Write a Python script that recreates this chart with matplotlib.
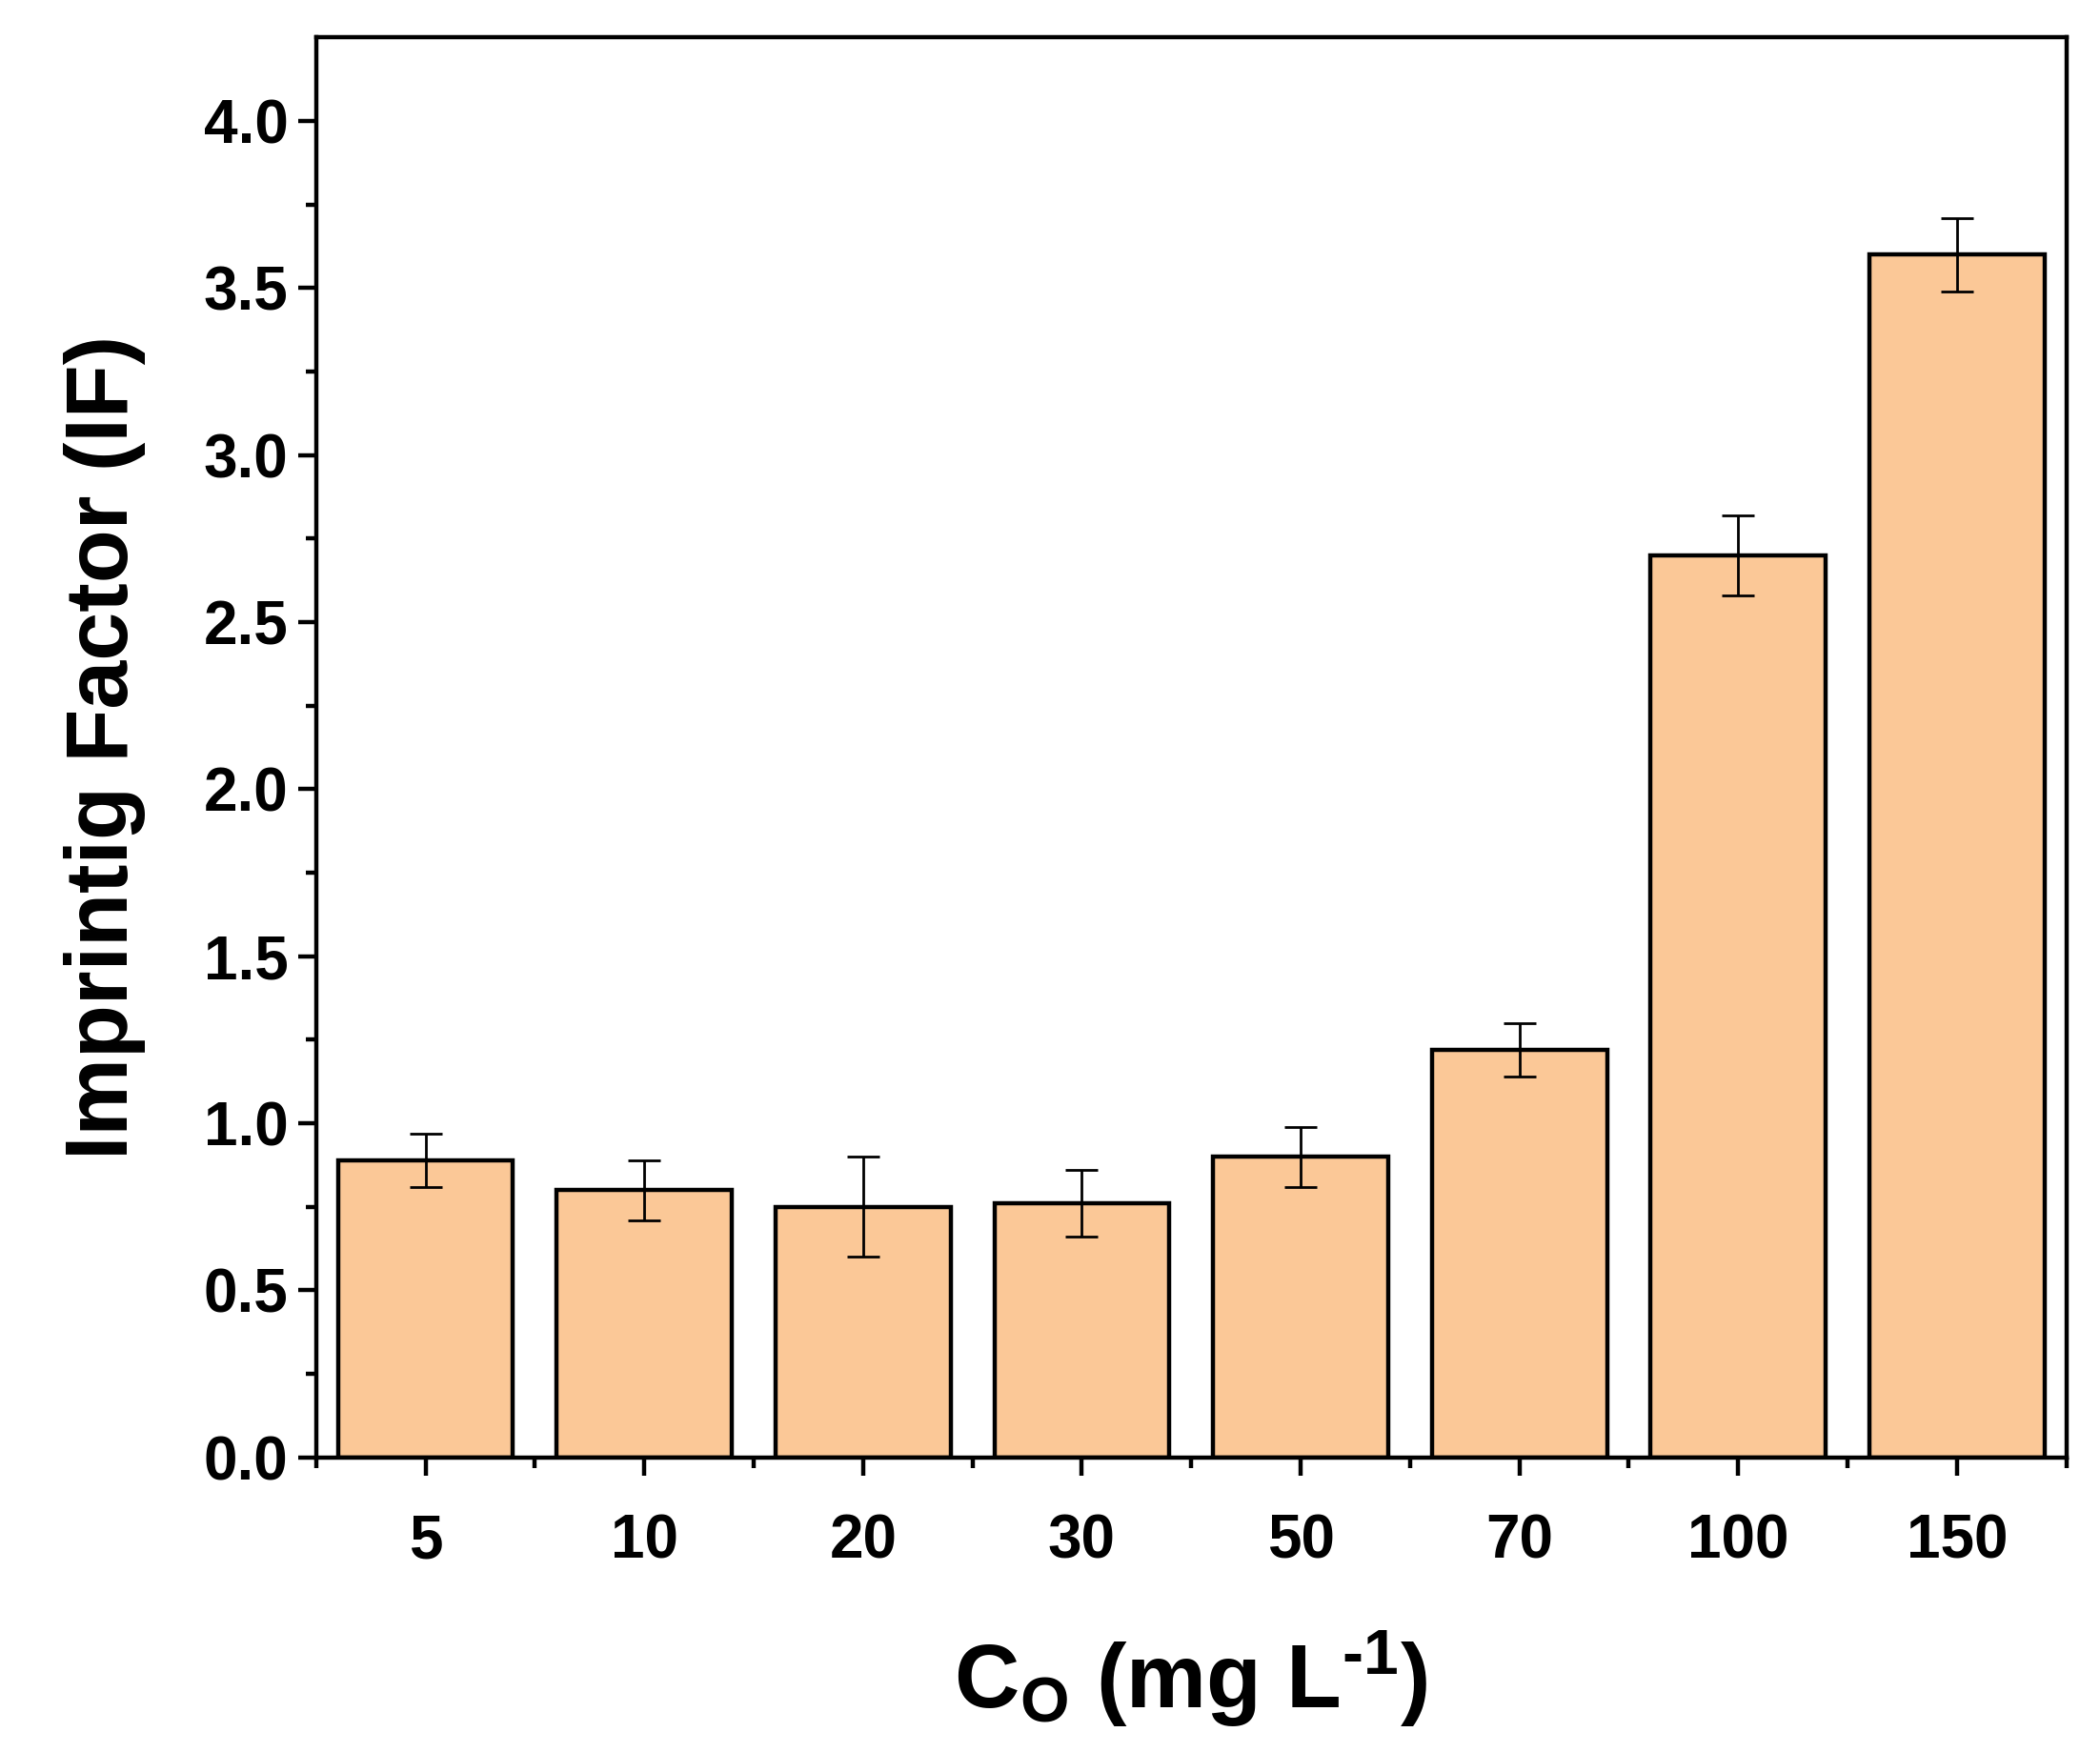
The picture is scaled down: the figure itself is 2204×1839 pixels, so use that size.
import matplotlib
matplotlib.use("Agg")
import matplotlib.pyplot as plt
import numpy as np

plt.rcParams['font.family'] = ['Liberation Sans', 'DejaVu Sans']
plt.rcParams['font.weight'] = 'bold'
plt.rcParams['mathtext.fontset'] = 'custom'
plt.rcParams['mathtext.rm'] = 'Liberation Sans:bold'
plt.rcParams['mathtext.bf'] = 'Liberation Sans:bold'
plt.rcParams['mathtext.default'] = 'bf'

# data
categories = ["5", "10", "20", "30", "50", "70", "100", "150"]
imprint_factor = [0.89, 0.80, 0.75, 0.76, 0.90, 1.22, 2.70, 3.60]
errors = [0.08, 0.09, 0.15, 0.10, 0.09, 0.08, 0.12, 0.11]

fig = plt.figure(figsize=(11.02, 9.195), dpi=200)
ax = fig.add_axes([0.1505, 0.1682, 0.8335, 0.8104])

x = np.arange(len(categories))
ax.bar(x, imprint_factor, width=0.8, color="#FBC897", edgecolor="black", linewidth=1.6,
       yerr=errors, error_kw=dict(ecolor="black", elinewidth=1.0, capsize=6, capthick=1.0))

ax.set_xlim(-0.5, len(categories) - 0.5)
ax.set_ylim(0, 4.25)
ax.set_xticks(x)
ax.set_xticklabels(categories)
ax.set_xticks(np.arange(-0.5, len(categories)), minor=True)
ax.set_yticks(np.arange(0, 4.01, 0.5))
ax.set_yticks(np.arange(0.25, 4.25, 0.5), minor=True)
ax.yaxis.set_major_formatter(matplotlib.ticker.FormatStrFormatter('%.1f'))

ax.tick_params(axis='both', which='major', direction='out', length=7, width=1.6, labelsize=23)
ax.tick_params(axis='both', which='minor', direction='out', length=4, width=1.6)
ax.tick_params(axis='x', which='major', pad=14)
for s in ax.spines.values():
    s.set_linewidth(1.6)

ax.set_ylabel("Imprintig Factor (IF)", fontsize=33, fontweight='bold', labelpad=22)
ax.set_xlabel(r"C$_{\mathrm{O}}$ (mg L$^{\mathrm{\text{-}1}}$)", fontsize=34, fontweight='bold', labelpad=22)

fig.savefig("out.png", dpi=200)
